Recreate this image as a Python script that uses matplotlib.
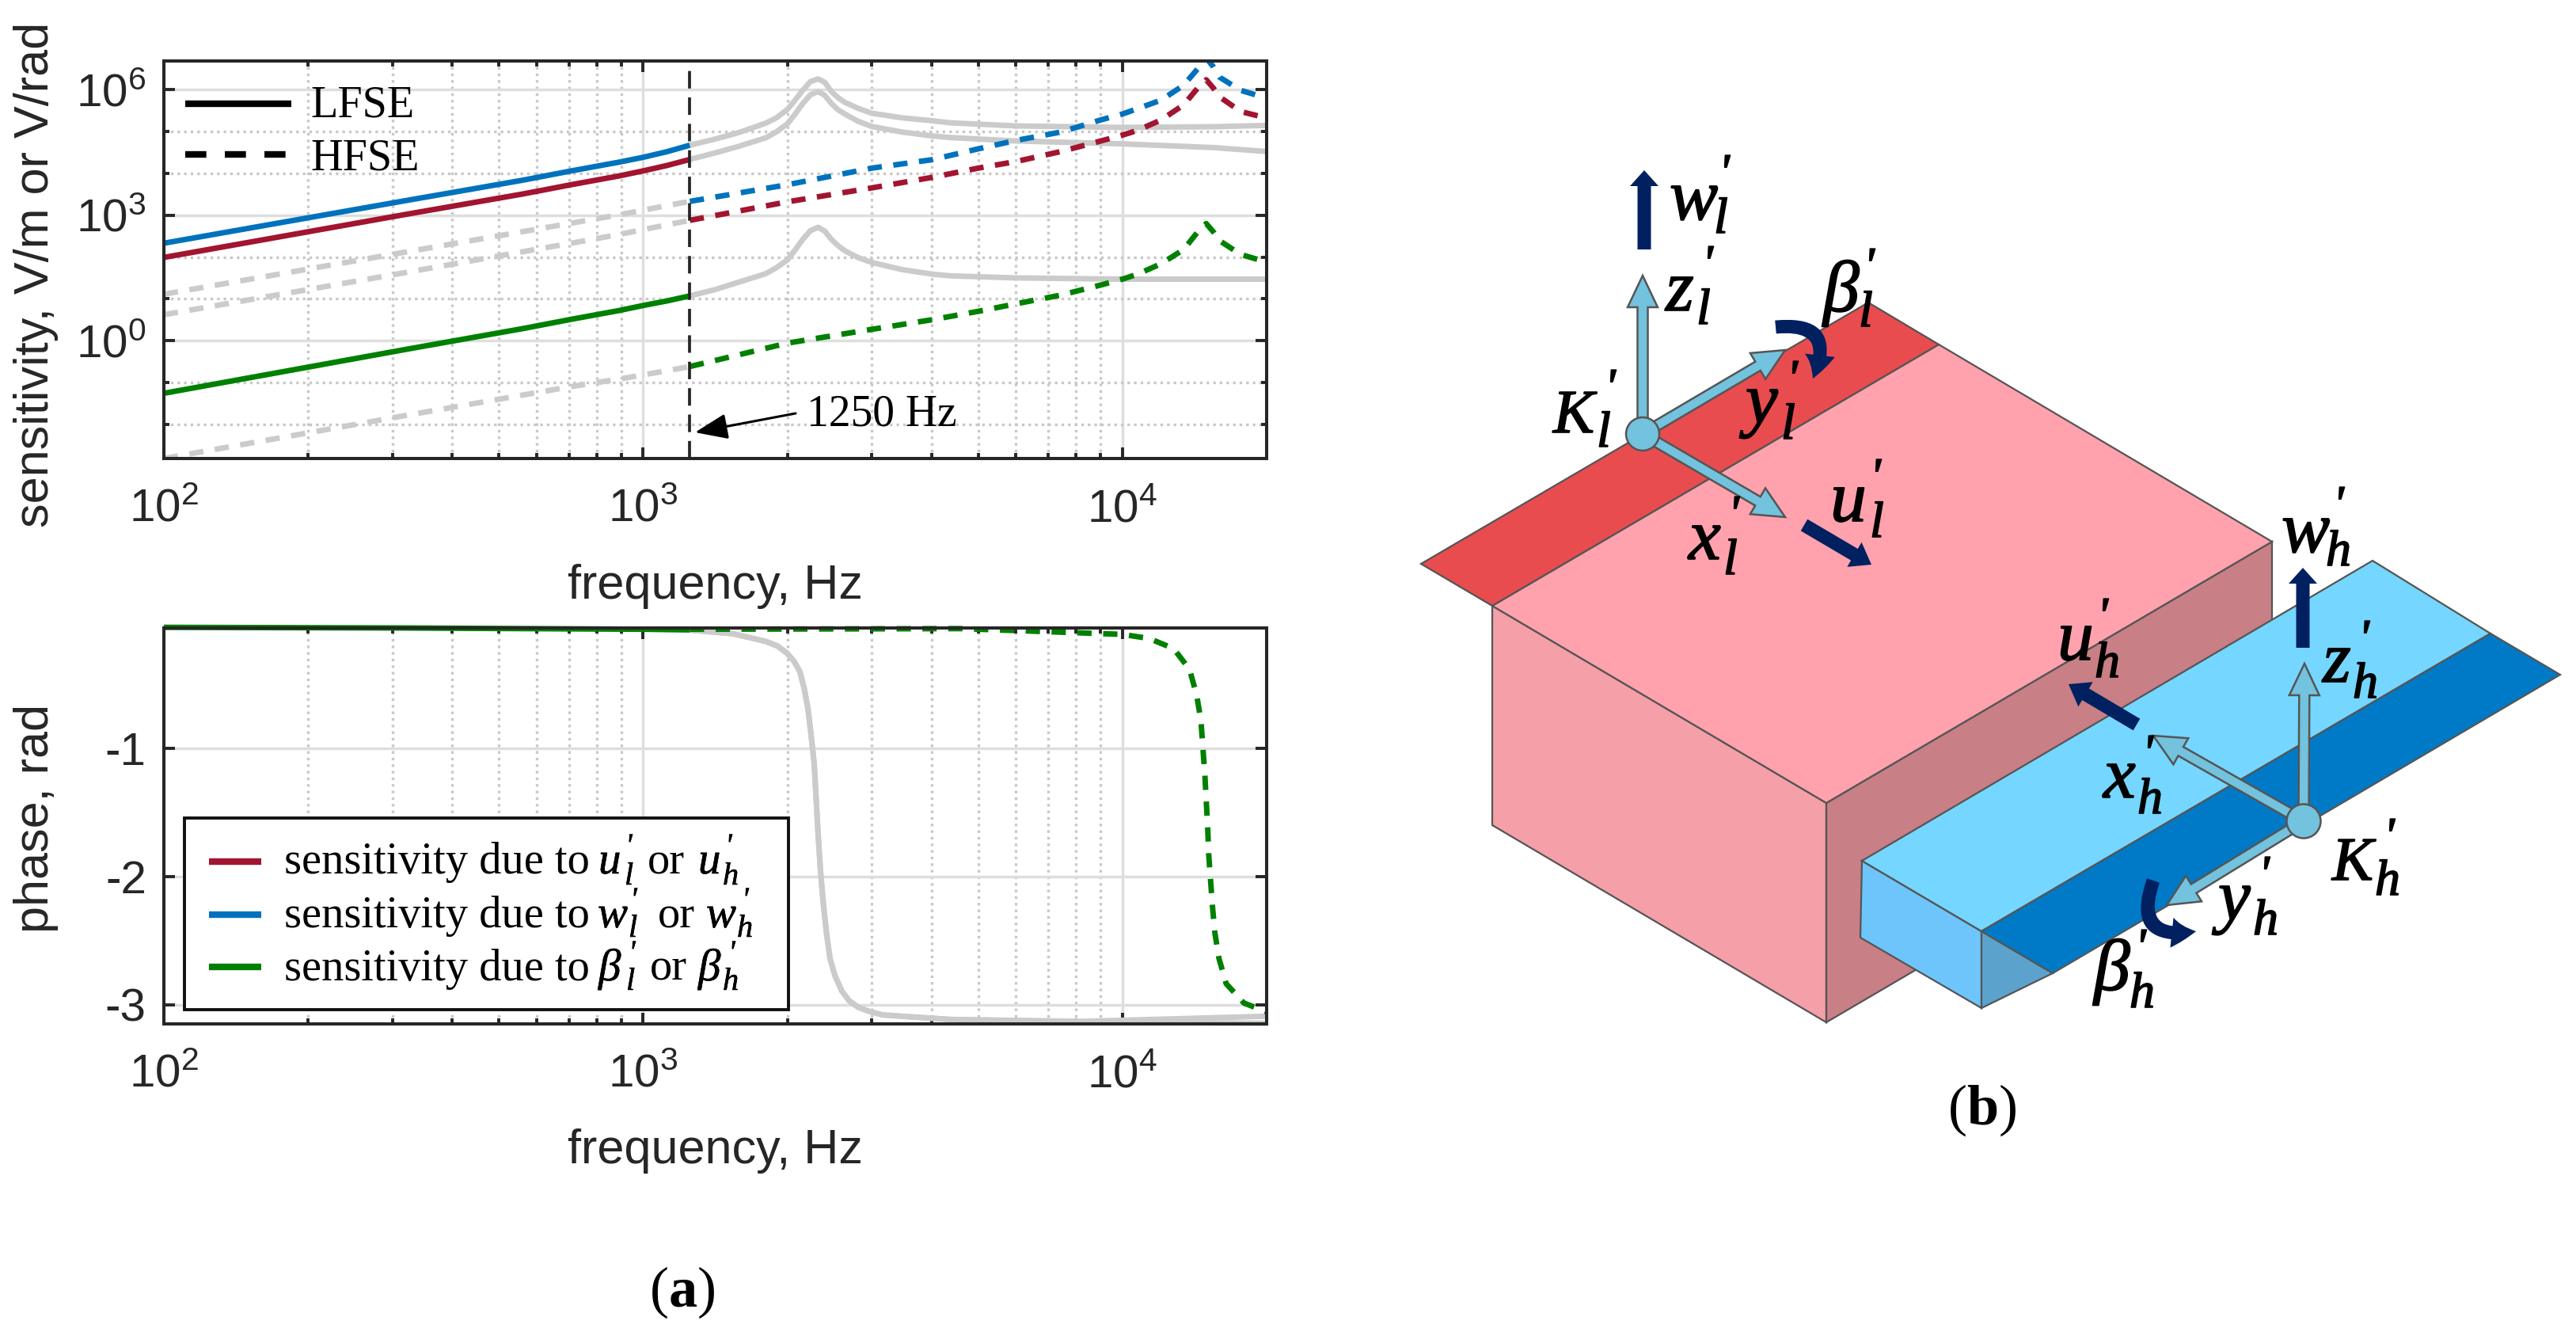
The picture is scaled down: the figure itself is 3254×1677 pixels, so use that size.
import numpy as np
import matplotlib
matplotlib.use("Agg")
import matplotlib.pyplot as plt
import matplotlib.patheffects as pe
from matplotlib.patches import Polygon, Circle, Rectangle, FancyArrow, FancyArrowPatch
from matplotlib.ticker import FixedLocator, NullFormatter

W, H = 3254, 1677

plt.rcParams["font.family"] = ["Liberation Sans", "DejaVu Sans"]
plt.rcParams["mathtext.fontset"] = "custom"
plt.rcParams["mathtext.sf"] = "Liberation Sans"
plt.rcParams["mathtext.rm"] = "Liberation Serif"
plt.rcParams["mathtext.bf"] = "Liberation Serif:bold"
plt.rcParams["lines.solid_capstyle"] = "butt"
plt.rcParams["lines.dash_capstyle"] = "butt"

BLUE = "#0072BD"
RED = "#A2142F"
GREEN = "#008000"
GRAY = "#CBCBCB"
DARK = "#262626"
NAVY = "#002060"
SKY = "#73C2DE"
EDGE = "#555555"
SERIF = "Liberation Serif"

# everything below is log10(frequency in Hz) and log10(sensitivity)
SPLIT = 3.0975
LOW_F = [2.0, 2.5, 2.75, 2.85, 2.95, 3.0, 3.05, SPLIT]
LOW_U = [1.99, 3.01, 3.51, 3.73, 3.94, 4.06, 4.19, 4.334]
LOW_W = [2.33, 3.34, 3.84, 4.06, 4.27, 4.385, 4.52, 4.675]
LOW_B = [-1.26, -0.22, 0.29, 0.51, 0.72, 0.84, 0.95, 1.07]
LOW_HF_U = [0.62, 1.62, 2.13, 2.33, 2.54, 2.656, 2.77, 2.877]
LOW_HF_W = [1.11, 2.11, 2.61, 2.81, 3.01, 3.12, 3.23, 3.331]
LOW_HF_B = [-2.82, -1.8, -1.3, -1.1, -0.92, -0.82, -0.72, -0.62]

MID_F = [SPLIT, 3.15, 3.2, 3.2555, 3.2775, 3.301, 3.316, 3.333, 3.349, 3.365, 3.379, 3.393, 3.407,
         3.421, 3.448, 3.477, 3.54, 3.603, 3.641, 3.778, 4.0, 4.19, 4.301]
MID_W = [4.675, 4.82, 4.978, 5.20, 5.325, 5.53, 5.735, 5.987, 6.196, 6.26, 6.18, 5.956, 5.81,
         5.70, 5.56, 5.44, 5.33, 5.26, 5.21, 5.136, 5.10, 5.117, 5.148]
MID_U = [4.334, 4.49, 4.65, 4.85, 4.99, 5.186, 5.40, 5.67, 5.88, 5.956, 5.87, 5.67, 5.52,
         5.42, 5.25, 5.123, 4.99, 4.896, 4.858, 4.776, 4.707, 4.618, 4.524]
MID_B = [1.07, 1.22, 1.40, 1.60, 1.74, 1.93, 2.15, 2.42, 2.63, 2.71, 2.62, 2.42, 2.27,
         2.15, 1.99, 1.87, 1.70, 1.59, 1.55, 1.50, 1.47, 1.47, 1.47]

HIGH_F = [SPLIT, 3.301, 3.477, 3.603, 3.699, 3.778, 3.872, 3.955, 4.0, 4.032, 4.081, 4.128,
          4.161, 4.175, 4.19, 4.203, 4.247, 4.301]
HIGH_W = [3.331, 3.729, 4.126, 4.328, 4.587, 4.789, 4.99, 5.28, 5.42, 5.55, 5.754, 6.11,
          6.555, 6.76, 6.55, 6.30, 5.987, 5.80]
HIGH_U = [2.877, 3.32, 3.653, 3.905, 4.126, 4.284, 4.524, 4.776, 4.915, 5.03, 5.28, 5.64,
          6.095, 6.24, 6.04, 5.83, 5.48, 5.325]
HIGH_B = [-0.62, -0.06, 0.27, 0.5, 0.70, 0.88, 1.09, 1.33, 1.47, 1.59, 1.84, 2.18,
          2.655, 2.80, 2.60, 2.39, 2.06, 1.88]

# phase, rad
PH_LOW_F = [2.0, 2.5, 3.0, SPLIT]
PH_LOW = [-0.055, -0.06, -0.07, -0.075]
PH_GRAY_F = [SPLIT, 3.188, 3.257, 3.28, 3.30, 3.315, 3.327, 3.336, 3.344, 3.35, 3.357, 3.365, 3.37, 3.376, 3.383,
             3.39, 3.40, 3.414, 3.43, 3.449, 3.47, 3.50, 3.64, 3.918, 4.301]
PH_GRAY_1 = [-0.076, -0.105, -0.166, -0.2, -0.256, -0.32, -0.40, -0.53, -0.69, -0.88, -1.12, -1.66, -1.95, -2.21, -2.45,
             -2.64, -2.77, -2.89, -2.97, -3.02, -3.05, -3.08, -3.115, -3.13, -3.09]
PH_GRAY_2 = [-0.076, -0.105, -0.166, -0.2, -0.256, -0.32, -0.40, -0.53, -0.69, -0.88, -1.12, -1.66, -1.95, -2.21, -2.45,
             -2.64, -2.77, -2.89, -2.97, -3.02, -3.05, -3.08, -3.115, -3.135, -3.145]
PH_HIGH_F = [SPLIT, 3.663, 4.0, 4.056, 4.107, 4.14, 4.155, 4.164, 4.168, 4.172, 4.175, 4.178, 4.180,
             4.184, 4.188, 4.193, 4.2016, 4.2166, 4.2536, 4.301]
PH_HIGH = [-0.07, -0.065, -0.11, -0.142, -0.221, -0.382, -0.582, -0.785, -0.994, -1.196, -1.407, -1.61, -1.818,
           -2.027, -2.232, -2.438, -2.639, -2.836, -2.987, -3.056]

X_MAJOR = [1e2, 1e3, 1e4]
X_LABELS = [r"$\mathsf{10^{2}}$", r"$\mathsf{10^{3}}$", r"$\mathsf{10^{4}}$"]
X_MINOR = [m * d for d in (1e2, 1e3) for m in range(2, 10)] + [2e4]
Y_MAJOR = [1e0, 1e3, 1e6]
Y_LABELS = [r"$\mathsf{10^{0}}$", r"$\mathsf{10^{3}}$", r"$\mathsf{10^{6}}$"]
Y_MINOR = [1e-2, 1e-1, 1e1, 1e2, 1e4, 1e5]
PH_TICKS = [-3, -2, -1]
PH_LABELS = ["-3", "-2", "-1"]

LINE_W = 5.0
DASHES = (0, (2.6, 2.1))


def hz(values):
    return 10 ** np.array(values)


def px_axes(fig, left, top, right, bottom):
    return fig.add_axes([left / W, 1 - bottom / H, (right - left) / W, (bottom - top) / H])


def style_axes(ax):
    ax.set_xscale("log")
    ax.set_xlim(100, 20000)
    ax.set_xticks(X_MAJOR, X_LABELS)
    ax.xaxis.set_minor_locator(FixedLocator(X_MINOR))
    ax.xaxis.set_minor_formatter(NullFormatter())
    ax.tick_params(which="both", direction="in", top=True, right=True, color=DARK, labelcolor=DARK)
    ax.tick_params(which="major", length=10, width=2.8, labelsize=42)
    ax.tick_params(which="minor", length=5, width=2.8)
    ax.tick_params(axis="x", which="major", pad=27)
    ax.tick_params(axis="y", which="major", pad=16)
    ax.grid(True, which="major", color="#DEDEDE", linewidth=2.5)
    ax.grid(True, which="minor", axis="x", color="#C8C8C8", linewidth=2.4, linestyle=(0, (1, 1.5)))
    ax.set_axisbelow(True)
    for spine in ax.spines.values():
        spine.set_color(DARK)
        spine.set_linewidth(2.9)


def curve(ax, f, y, color, dashed=False, **kw):
    ax.plot(hz(f), y, color=color, linewidth=LINE_W, linestyle=DASHES if dashed else "-", **kw)


def magnitude(ax, f, y, color, dashed=False):
    ax.plot(hz(f), hz(y), color=color, linewidth=LINE_W, linestyle=DASHES if dashed else "-")


def primed(ov, letter, sub, pl, ps, pp, size=66, subsize=46, stroke=1.2):
    # letter, subscript and prime are placed apart, the subscript is nearly full size in the original
    heavy = [pe.withStroke(linewidth=stroke, foreground="black")]
    for pos, txt, fs in ((pl, letter, size), (ps, sub, subsize), (pp, "'", subsize)):
        ov.text(pos[0], pos[1], txt, family=SERIF, style="italic", fontsize=fs, color="black", va="baseline",
                path_effects=heavy)


def axis_arrow(ov, start, tip):
    ov.add_patch(FancyArrow(start[0], start[1], tip[0] - start[0], tip[1] - start[1], width=13, head_width=38,
                            head_length=40, length_includes_head=True, facecolor=SKY, edgecolor=EDGE, linewidth=1.8))


def load_arrow(ov, start, tip, head_length=20):
    ov.add_patch(FancyArrow(start[0], start[1], tip[0] - start[0], tip[1] - start[1], width=17, head_width=36,
                            head_length=head_length, length_includes_head=True, facecolor=NAVY, edgecolor=NAVY, linewidth=0))


def turn_arrow(ov, start, tip, rad):
    ov.add_patch(FancyArrowPatch(start, tip, connectionstyle=f"arc3,rad={rad}",
                                 arrowstyle="simple,tail_width=0.55,head_width=1.25,head_length=1.0",
                                 mutation_scale=22, color=NAVY, linewidth=0, shrinkA=0, shrinkB=0))


def face(ov, points, color):
    ov.add_patch(Polygon(points, closed=True, facecolor=color, edgecolor=EDGE, linewidth=1.6, joinstyle="miter"))


fig = plt.figure(figsize=(W / 100, H / 100), dpi=100)

# sensitivity panel
ax1 = px_axes(fig, 207, 77.5, 1600, 579)
style_axes(ax1)
ax1.set_yscale("log")
ax1.set_ylim(10 ** -2.82, 10 ** 6.68)
ax1.set_yticks(Y_MAJOR, Y_LABELS)
ax1.yaxis.set_minor_locator(FixedLocator(Y_MINOR))
ax1.yaxis.set_minor_formatter(NullFormatter())
ax1.grid(True, which="minor", axis="y", color="#C8C8C8", linewidth=2.4, linestyle=(0, (1, 1.5)))

for low in (LOW_HF_W, LOW_HF_U, LOW_HF_B):
    magnitude(ax1, LOW_F, low, GRAY, dashed=True)
magnitude(ax1, MID_F, MID_W, GRAY)
magnitude(ax1, MID_F, MID_U, GRAY)
magnitude(ax1, MID_F, MID_B, GRAY)
magnitude(ax1, LOW_F, LOW_W, BLUE)
magnitude(ax1, LOW_F, LOW_U, RED)
magnitude(ax1, LOW_F, LOW_B, GREEN)
magnitude(ax1, HIGH_F, HIGH_W, BLUE, dashed=True)
magnitude(ax1, HIGH_F, HIGH_U, RED, dashed=True)
magnitude(ax1, HIGH_F, HIGH_B, GREEN, dashed=True)
ax1.axvline(10 ** SPLIT, color=DARK, linewidth=2.7, linestyle=(0, (5.9, 3)))

ax1.set_xlabel("frequency, Hz", fontsize=44, color=DARK)
ax1.xaxis.set_label_coords(0.5, -0.265)
ax1.set_ylabel("sensitivity, V/m or V/rad", fontsize=44, color=DARK)
ax1.yaxis.set_label_coords(-0.0955, 0.4626)

# phase panel
ax2 = px_axes(fig, 207, 793, 1600, 1293)
style_axes(ax2)
ax2.set_ylim(-3.15, -0.06)
ax2.set_yticks(PH_TICKS, PH_LABELS)

curve(ax2, PH_GRAY_F, PH_GRAY_1, GRAY, clip_on=False)
curve(ax2, PH_GRAY_F, PH_GRAY_2, GRAY, clip_on=False)
curve(ax2, PH_LOW_F, PH_LOW, GREEN, clip_on=False)
curve(ax2, PH_HIGH_F, PH_HIGH, GREEN, dashed=True, clip_on=False)

ax2.set_xlabel("frequency, Hz", fontsize=44, color=DARK)
ax2.xaxis.set_label_coords(0.5, -0.265)
ax2.set_ylabel("phase, rad", fontsize=44, color=DARK)
ax2.yaxis.set_label_coords(-0.0955, 0.52)

# overlay in image pixels for the keys, captions and the beam sketch
ov = fig.add_axes([0, 0, 1, 1])
ov.set_xlim(0, W)
ov.set_ylim(H, 0)
ov.axis("off")
ov.patch.set_alpha(0)

# LFSE / HFSE key
ov.plot([234, 368], [131, 131], color="black", linewidth=6)
ov.plot([234, 362], [195, 195], color="black", linewidth=6, linestyle=(0, (3.2, 2.8)))
ov.text(392, 147, "LFSE", family=SERIF, fontsize=40.5, color="black", va="baseline")
ov.text(392, 214, "HFSE", family=SERIF, fontsize=40.5, color="black", va="baseline")

# 1250 Hz note
ov.text(1019, 537, "1250 Hz", family=SERIF, fontsize=40, color="black", va="baseline")
ov.add_patch(FancyArrowPatch((1005, 522), (878, 546), arrowstyle="-|>,head_length=1.4,head_width=0.55",
                             mutation_scale=18, color="black", linewidth=2.2, shrinkA=0, shrinkB=0))

# phase legend
ov.add_patch(Rectangle((233, 1033), 763.5, 242, facecolor="white", edgecolor="#111111", linewidth=2.8))
for row_y, color in zip([1088, 1155, 1221], [RED, BLUE, GREEN]):
    ov.plot([264, 330], [row_y, row_y], color=color, linewidth=6)
for base, or_x in zip([1103, 1171, 1238], [818, 831, 821]):
    ov.text(359, base, "sensitivity due to", family=SERIF, fontsize=40.7, color="black", va="baseline")
    ov.text(or_x, base, "or", family=SERIF, fontsize=40.7, color="black", va="baseline")
primed(ov, "u", "l", (756, 1103), (789, 1117), (790, 1080), 41, 29, 0.4)
primed(ov, "u", "h", (882, 1103), (913, 1117), (916, 1080), 41, 29, 0.4)
primed(ov, "w", "l", (755, 1171), (794, 1183), (796, 1148), 41, 29, 0.4)
primed(ov, "w", "h", (892, 1171), (931, 1183), (937, 1148), 41, 29, 0.4)
primed(ov, "β", "l", (756, 1238), (791, 1250), (794, 1215), 41, 29, 0.4)
primed(ov, "β", "h", (882, 1238), (913, 1250), (920, 1215), 41, 29, 0.4)

# captions
ov.text(862, 1650, r"$\mathrm{(}\mathbf{a}\mathrm{)}$", fontsize=52, ha="center", va="baseline", color="black")
ov.text(2504, 1420, r"$\mathrm{(}\mathbf{b}\mathrm{)}$", fontsize=52, ha="center", va="baseline", color="black")

# pink block
face(ov, [(1885, 765), (2307, 1014), (2307, 1291), (1885, 1042)], "#F59FA8")
face(ov, [(2307, 1014), (2870, 684), (2870, 961), (2307, 1291)], "#C87F86")
face(ov, [(1885, 765), (2449, 435), (2870, 684), (2307, 1014)], "#FFA2AD")
face(ov, [(1795, 712), (1885, 765), (2449, 435), (2360, 382)], "#E84C4F")

# blue block
face(ov, [(2352, 1087), (2503, 1176), (2503, 1273), (2350, 1184)], "#6DC5FC")
face(ov, [(2503, 1176), (2593, 1229), (2503, 1273)], "#5BA3CC")
face(ov, [(2352, 1087), (2503, 1176), (3146, 800), (2997, 708)], "#75D6FF")
face(ov, [(2503, 1176), (2593, 1229), (3234, 852), (3146, 800)], "#007AC6")

# frame K_l
K_L = (2075, 548)
axis_arrow(ov, K_L, (2075, 348))
axis_arrow(ov, K_L, (2255, 442))
axis_arrow(ov, K_L, (2255, 653))
ov.add_patch(Circle(K_L, 21, facecolor=SKY, edgecolor=EDGE, linewidth=1.8, zorder=3))
load_arrow(ov, (2077, 315), (2077, 215))
load_arrow(ov, (2279, 663), (2364, 713), 25)
turn_arrow(ov, (2243, 413), (2290, 478), -0.85)

# frame K_h
K_H = (2910, 1037)
axis_arrow(ov, K_H, (2911, 838))
axis_arrow(ov, K_H, (2720, 929))
axis_arrow(ov, K_H, (2737, 1143))
ov.add_patch(Circle(K_H, 21.5, facecolor=SKY, edgecolor=EDGE, linewidth=1.8, zorder=3))
load_arrow(ov, (2909, 818), (2909, 717))
load_arrow(ov, (2699, 915), (2613, 864), 25)
turn_arrow(ov, (2720, 1112), (2774, 1176), 0.85)

# sketch labels
primed(ov, "w", "l", (2109, 277), (2165, 294), (2171, 238))
primed(ov, "z", "l", (2104, 392), (2143, 409), (2150, 353))
primed(ov, "β", "l", (2303, 393), (2348, 412), (2354, 356))
primed(ov, "K", "l", (1962, 546), (2017, 564), (2027, 509), 56)
primed(ov, "y", "l", (2205, 534), (2250, 554), (2257, 498))
primed(ov, "x", "l", (2133, 706), (2177, 725), (2183, 669))
primed(ov, "u", "l", (2312, 658), (2362, 678), (2362, 622))
primed(ov, "w", "h", (2882, 697), (2938, 714), (2947, 657))
primed(ov, "z", "h", (2934, 861), (2972, 881), (2979, 826))
primed(ov, "u", "h", (2599, 833), (2646, 855), (2649, 798))
primed(ov, "x", "h", (2657, 1007), (2700, 1027), (2706, 971))
primed(ov, "K", "h", (2946, 1111), (3000, 1130), (3011, 1076), 56)
primed(ov, "y", "h", (2802, 1161), (2846, 1180), (2853, 1124))
primed(ov, "β", "h", (2645, 1250), (2690, 1272), (2697, 1216))

fig.savefig("out.png", dpi=100, facecolor="white")
